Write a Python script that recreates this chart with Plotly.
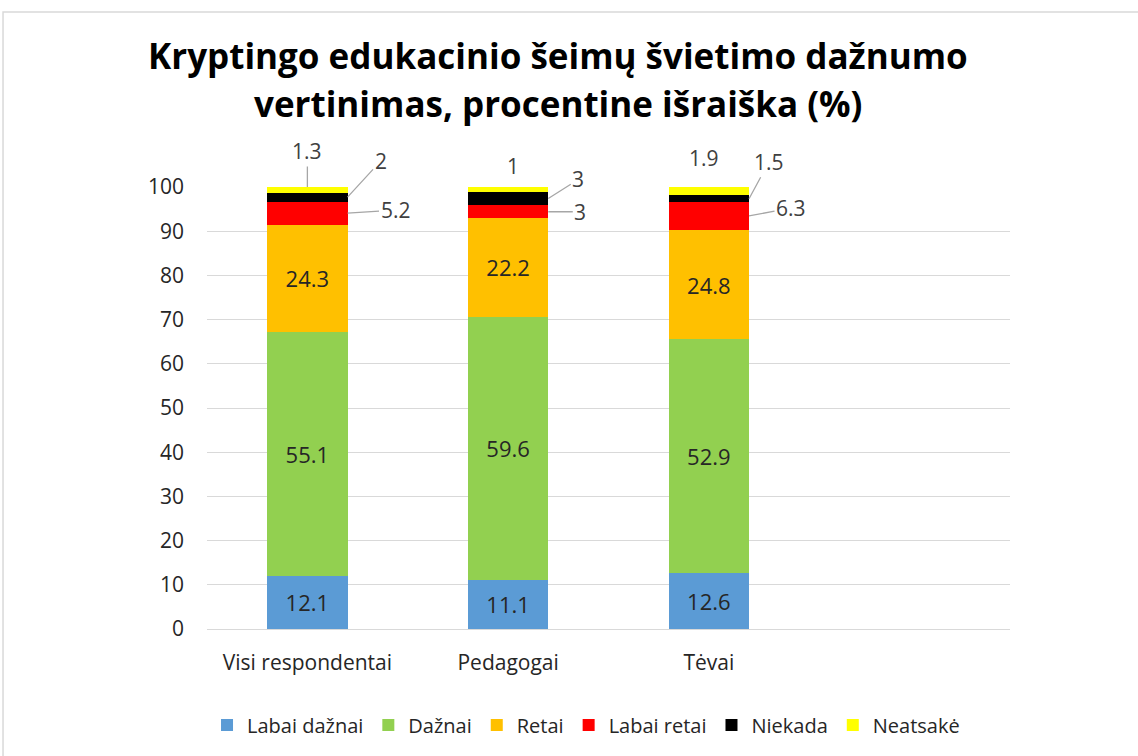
import plotly.graph_objects as go

categories = ["Visi respondentai", "Pedagogai", "Tėvai"]
series_names = ["Labai dažnai", "Dažnai", "Retai", "Labai retai", "Niekada", "Neatsakė"]
labai_daznai = [12.1, 11.1, 12.6]
daznai = [55.1, 59.6, 52.9]
retai = [24.3, 22.2, 24.8]
labai_retai = [5.2, 3, 6.3]
niekada = [2, 3, 1.5]
neatsake = [1.3, 1, 1.9]
title_lines = ["Kryptingo edukacinio šeimų švietimo dažnumo",
               "vertinimas, procentine išraiška (%)"]

colors = ["#5B9BD5", "#92D050", "#FFC000", "#FF0000", "#000000", "#FFFF00"]
all_series = [labai_daznai, daznai, retai, labai_retai, niekada, neatsake]
font_name = "Open Sans"

fig = go.Figure()

for idx, values in enumerate(all_series):
    # only the three large segments get labels inside the bar
    inside = idx < 3
    fig.add_trace(go.Bar(
        x=categories, y=values, name=series_names[idx],
        marker=dict(color=colors[idx], line=dict(width=0)),
        width=0.4,
        text=[str(v) for v in values] if inside else None,
        textposition="inside" if inside else "none",
        insidetextanchor="middle",
        textfont=dict(size=22, color="#262626", family=font_name),
        hoverinfo="x+y+name",
    ))

# callout labels for the thin segments at the top of each bar
def bottoms(i):
    out = []
    total = 0
    for s in all_series:
        out.append(total)
        total += s[i]
    return out

callouts = [
    # (category index, series index, ax, ay, arrow)
    (0, 5, 0, -36, True),
    (0, 4, 33, -36, True),
    (0, 3, 48, -3, True),
    (1, 5, 5, -21, False),
    (1, 4, 30, -19, True),
    (1, 3, 32, 0, True),
    (2, 5, -5, -29, False),
    (2, 4, 20, -37, True),
    (2, 3, 42, -8, True),
]

for ci, si, ax, ay, arrow in callouts:
    b = bottoms(ci)
    val = all_series[si][ci]
    mid = b[si] + val / 2
    if si == 5:
        xpos = ci
        ypos = b[si] + val
    else:
        xpos = ci + 0.2
        ypos = mid
    if arrow:
        fig.add_annotation(
            x=xpos, y=ypos, text=str(val), showarrow=True, arrowhead=0,
            arrowwidth=1.3, arrowcolor="#A6A6A6", ax=ax, ay=ay,
            font=dict(size=21, color="#404040", family=font_name),
        )
    else:
        fig.add_annotation(
            x=xpos, y=ypos, text=str(val), showarrow=False,
            xshift=ax, yshift=-ay,
            font=dict(size=21, color="#404040", family=font_name),
        )

# title as two lines so the line spacing matches
for line, ty in zip(title_lines, [1.2986, 1.190]):
    fig.add_annotation(
        x=0.4365, y=ty, xref="paper", yref="paper", text="<b>" + line + "</b>",
        showarrow=False, xanchor="center", yanchor="middle",
        font=dict(size=35, color="#000000", family=font_name),
    )

# light border round the chart area
fig.add_shape(type="rect", xref="paper", yref="paper",
              x0=-0.254, x1=1.3, y0=-0.4, y1=1.396,
              line=dict(color="#D9D9D9", width=1.5), layer="below")

fig.update_layout(
    width=1138, height=756,
    barmode="stack",
    plot_bgcolor="white", paper_bgcolor="white",
    margin=dict(l=207, r=128, t=187, b=127),
    xaxis=dict(
        type="category", range=[-0.5, 3.5], showgrid=False, showline=False,
        ticks="", ticklabelstandoff=19,
        tickfont=dict(size=21, color="#262626", family=font_name),
    ),
    yaxis=dict(
        range=[0, 100], dtick=10, showgrid=True, gridcolor="#D9D9D9",
        gridwidth=1.3, zeroline=True, zerolinecolor="#D9D9D9", zerolinewidth=1.3,
        ticks="", ticklabelstandoff=22,
        tickfont=dict(size=21, color="#262626", family=font_name),
    ),
    legend=dict(
        orientation="h", x=0.472, xanchor="center",
        yref="container", y=0.041, yanchor="middle",
        font=dict(size=20, color="#262626", family=font_name),
        itemwidth=30, traceorder="normal",
    ),
    showlegend=True,
)

fig.write_html("out.html", config={"displayModeBar": False},
               post_script="document.body.style.margin='0';")
